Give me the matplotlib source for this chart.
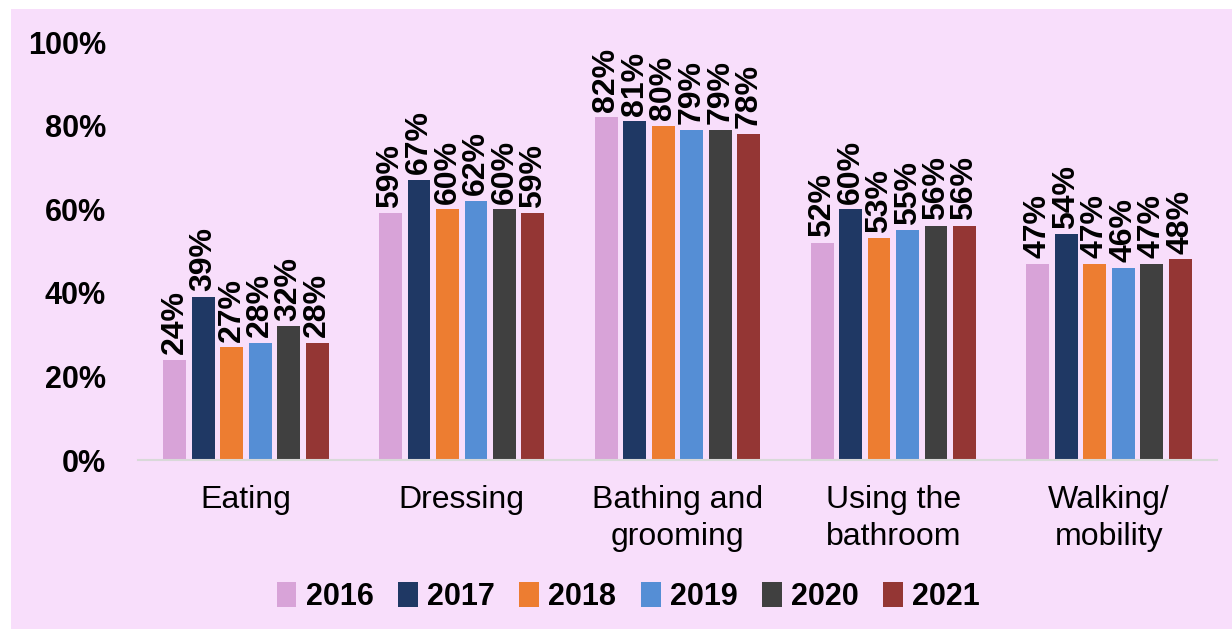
import matplotlib
matplotlib.use("Agg")
import matplotlib.pyplot as plt
from matplotlib.patches import Rectangle, Patch
import numpy as np

plt.rcParams['font.family'] = ['Liberation Sans', 'DejaVu Sans']

categories = ["Eating", "Dressing", "Bathing and\ngrooming", "Using the\nbathroom", "Walking/\nmobility"]
years = ["2016", "2017", "2018", "2019", "2020", "2021"]
values = {
    "2016": [24, 59, 82, 52, 47],
    "2017": [39, 67, 81, 60, 54],
    "2018": [27, 60, 80, 53, 47],
    "2019": [28, 62, 79, 55, 46],
    "2020": [32, 60, 79, 56, 47],
    "2021": [28, 59, 78, 56, 48],
}
colors = ["#D8A3D8", "#1F3864", "#ED7D31", "#558ED5", "#404040", "#943634"]
yticks = [0, 20, 40, 60, 80, 100]

W, H = 1232, 629
fig = plt.figure(figsize=(W / 100, H / 100), dpi=100)
fig.patch.set_facecolor("white")
bg = "#F8DEFB"
fig.patches.append(Rectangle((11 / W, 0), 1 - 11 / W, 1 - 9 / H, transform=fig.transFigure,
                             facecolor=bg, edgecolor="none", zorder=-10))

ax = fig.add_axes([138 / W, 1 - 460 / H, (1217 - 138) / W, (460 - 42) / H])
ax.set_facecolor("none")
ax.set_zorder(1)

x = np.arange(len(categories))
step = 0.132
width = 0.106
for i, yr in enumerate(years):
    pos = x + (i - 2.5) * step
    vals = values[yr]
    ax.bar(pos, vals, width=width, color=colors[i], edgecolor="none", zorder=2, label=yr)
    for px, v in zip(pos, vals):
        ax.annotate(f"{v}%", (px, v), xytext=(0, 4), textcoords="offset points",
                    rotation=90, ha="center", va="bottom", fontsize=23, fontweight="bold",
                    color="black")

ax.set_xlim(-0.5, len(categories) - 0.5)
ax.set_ylim(0, 100)
ax.set_yticks(yticks)
ax.set_yticklabels([f"{t}%" for t in yticks], fontsize=22, fontweight="bold")
ax.set_xticks(x)
ax.set_xticklabels(categories, fontsize=23, linespacing=1.3)
ax.tick_params(axis="y", length=0, pad=23)
ax.tick_params(axis="x", length=0, pad=18)
for s in ["top", "right", "left"]:
    ax.spines[s].set_visible(False)
ax.spines["bottom"].set_color("#D9D9D9")
ax.spines["bottom"].set_linewidth(1.5)

handles = [Patch(facecolor=c, edgecolor="none") for c in colors]
leg = fig.legend(handles, years, loc="center", bbox_to_anchor=(0.51, 1 - 597 / H), ncol=6,
                 frameon=False, prop={"size": 22, "weight": "bold"},
                 handlelength=0.65, handleheight=0.9, handletextpad=0.3, columnspacing=0.8)

fig.savefig("out.png", dpi=100, facecolor=fig.get_facecolor())
